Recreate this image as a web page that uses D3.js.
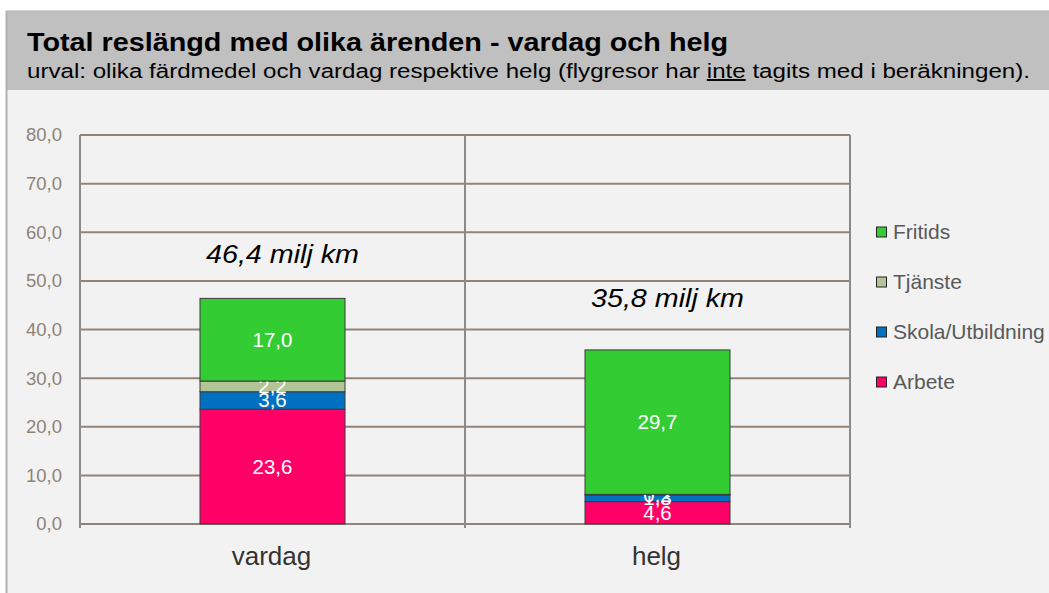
<!DOCTYPE html>
<html>
<head>
<meta charset="utf-8">
<script src="https://cdn.jsdelivr.net/npm/d3@7"></script>
<style>
  body { margin: 0; background: #fff; }
  svg { display: block; font-family: "Liberation Sans", Arial, sans-serif; }
</style>
</head>
<body>
<svg id="chart" width="1049" height="593"></svg>
<script>
// kategorier och serier
var categories = ["vardag", "helg"];
var series = ["Arbete", "Skola/Utbildning", "Tjänste", "Fritids"];
var arbete = [23.6, 4.6];
var skola = [3.6, 1.3];
var tjanste = [2.2, 0.2];
var fritids = [17.0, 29.7];
var totals = ["46,4 milj km", "35,8 milj km"];
var yTicks = [0, 10, 20, 30, 40, 50, 60, 70, 80];
var colors = ["#ff0066", "#0070c0", "#b3c596", "#33cc33"];

var width = 1049, height = 593;
var svg = d3.select("#chart");

// bakgrund och rubrik
svg.append("rect").attr("x", 6).attr("y", 11).attr("width", width - 6).attr("height", height - 11)
    .attr("fill", "#f2f2f2");
svg.append("rect").attr("x", 6).attr("y", 11).attr("width", width - 6).attr("height", 79)
    .attr("fill", "#c0c0c0");
svg.append("line").attr("x1", 6.5).attr("x2", 6.5).attr("y1", 11).attr("y2", height)
    .attr("stroke", "#b0b0b0").attr("stroke-width", 2);
svg.append("line").attr("x1", 6).attr("x2", width).attr("y1", 11).attr("y2", 11)
    .attr("stroke", "#b0b0b0").attr("stroke-width", 1);

svg.append("text").attr("x", 27).attr("y", 51)
    .attr("font-size", 25).attr("font-weight", "bold").attr("fill", "#000")
    .attr("textLength", 701).attr("lengthAdjust", "spacingAndGlyphs")
    .text("Total reslängd med olika ärenden - vardag och helg");

var sub = svg.append("text").attr("x", 27).attr("y", 78)
    .attr("font-size", 19.5).attr("fill", "#000")
    .attr("textLength", 1003).attr("lengthAdjust", "spacingAndGlyphs");
sub.append("tspan").text("urval: olika färdmedel och vardag respektive helg (flygresor har ");
sub.append("tspan").attr("text-decoration", "underline").text("inte");
sub.append("tspan").text(" tagits med i beräkningen).");

// diagramyta
var plot = {left: 80, right: 850, top: 135, bottom: 524};

var x = d3.scaleBand().domain(categories).range([plot.left, plot.right]).paddingInner(0).paddingOuter(0);
var y = d3.scaleLinear().domain([0, 80]).range([plot.bottom, plot.top]);

var table = categories.map(function(c, i) {
    return {cat: c, "Arbete": arbete[i], "Skola/Utbildning": skola[i], "Tjänste": tjanste[i], "Fritids": fritids[i]};
});
var stacked = d3.stack().keys(series)(table);

var g = svg.append("g");

// stödlinjer
g.selectAll(".grid").data(yTicks).join("line")
    .attr("class", "grid")
    .attr("x1", plot.left).attr("x2", plot.right)
    .attr("y1", d => y(d)).attr("y2", d => y(d))
    .attr("stroke", "#938377").attr("stroke-width", 2);

// y-axel
var yAxis = g.append("g").attr("transform", "translate(" + plot.left + ",0)")
    .call(d3.axisLeft(y).tickValues(yTicks).tickSize(0).tickPadding(18)
        .tickFormat(d => d3.format(".1f")(d).replace(".", ",")));
yAxis.select(".domain").remove();
yAxis.selectAll("text").attr("font-size", 18.5).attr("fill", "#8e8278")
    .attr("font-family", "Liberation Sans, Arial, sans-serif");

g.append("line").attr("x1", plot.left).attr("x2", plot.left)
    .attr("y1", plot.top).attr("y2", plot.bottom + 4)
    .attr("stroke", "#8a8a8a").attr("stroke-width", 2);
g.append("line").attr("x1", plot.right).attr("x2", plot.right)
    .attr("y1", plot.top).attr("y2", plot.bottom + 4)
    .attr("stroke", "#8a8a8a").attr("stroke-width", 2);
g.append("line").attr("x1", x("helg")).attr("x2", x("helg"))
    .attr("y1", plot.top).attr("y2", plot.bottom + 4)
    .attr("stroke", "#8a8a8a").attr("stroke-width", 2);

// staplar
var barW = 145;
var layer = g.selectAll(".layer").data(stacked).join("g")
    .attr("class", "layer")
    .attr("fill", (d, i) => colors[i]);

layer.selectAll("rect").data(d => d).join("rect")
    .attr("x", d => x(d.data.cat) + x.bandwidth() / 2 - barW / 2)
    .attr("width", barW)
    .attr("y", d => y(d[1]))
    .attr("height", d => y(d[0]) - y(d[1]))
    .attr("stroke", "#3a3a3a").attr("stroke-width", 1);

// värdeetiketter
layer.selectAll("text").data(d => d).join("text")
    .attr("x", d => x(d.data.cat) + x.bandwidth() / 2)
    .attr("y", d => (y(d[0]) + y(d[1])) / 2 + 7)
    .attr("text-anchor", "middle")
    .attr("font-size", 20.5).attr("fill", "#fff")
    .text(d => d3.format(".1f")(d[1] - d[0]).replace(".", ","));

// totaler
var totalY = [53.7, 44.6];
g.selectAll(".total").data(categories).join("text")
    .attr("class", "total")
    .attr("x", d => x(d) + x.bandwidth() / 2 + 10)
    .attr("y", (d, i) => y(totalY[i]))
    .attr("text-anchor", "middle")
    .attr("font-size", 26).attr("font-style", "italic").attr("fill", "#000")
    .attr("textLength", 153).attr("lengthAdjust", "spacingAndGlyphs")
    .text((d, i) => totals[i]);

// kategoriaxel
g.selectAll(".cat").data(categories).join("text")
    .attr("class", "cat")
    .attr("x", d => x(d) + x.bandwidth() / 2 - 1)
    .attr("y", 565)
    .attr("text-anchor", "middle")
    .attr("font-size", 26).attr("fill", "#333")
    .text(d => d);

// förklaring
var legendOrder = ["Fritids", "Tjänste", "Skola/Utbildning", "Arbete"];
var leg = g.selectAll(".leg").data(legendOrder).join("g")
    .attr("class", "leg")
    .attr("transform", (d, i) => "translate(876," + (232 + i * 50) + ")");
leg.append("rect").attr("x", 0.5).attr("y", -5).attr("width", 10).attr("height", 10)
    .attr("fill", d => colors[series.indexOf(d)])
    .attr("stroke", "#222").attr("stroke-width", 1);
leg.append("text").attr("x", 17).attr("y", 7)
    .attr("font-size", 21).attr("fill", "#595959")
    .text(d => d);
</script>
</body>
</html>
